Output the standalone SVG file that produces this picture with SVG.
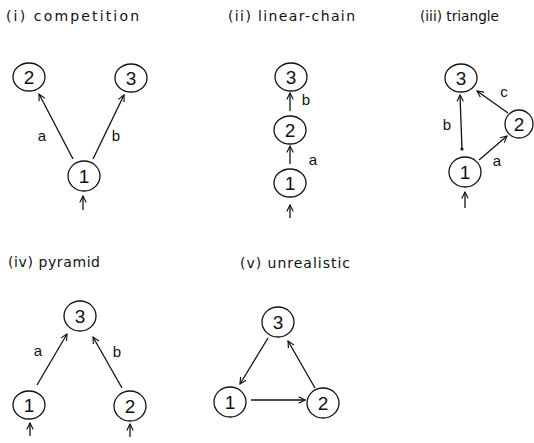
<svg xmlns="http://www.w3.org/2000/svg" width="534" height="443" viewBox="0 0 534 443">
<defs>
<style>
.t{font-family:"DejaVu Sans","Liberation Sans",sans-serif;font-size:14px;fill:#111}
.n ellipse{fill:none;stroke:#111;stroke-width:1.3}
.n text{font-family:"Liberation Sans",sans-serif;font-size:19px;fill:#111;text-anchor:middle}
.l{font-family:"Liberation Sans",sans-serif;font-size:15px;fill:#111;text-anchor:middle}
.e line{stroke:#111;stroke-width:1.3;fill:none;marker-end:url(#ah)}
</style>
<marker id="ah" viewBox="0 0 10 10" refX="9" refY="5" markerWidth="8" markerHeight="8" markerUnits="userSpaceOnUse" orient="auto">
<path d="M1,1 L9,5 L1,9" fill="none" stroke="#111" stroke-width="1.4"/>
</marker>
</defs>
<rect width="534" height="443" fill="#fff"/>

<!-- titles -->
<text class="t" x="6" y="21" textLength="133" lengthAdjust="spacing">(i) competition</text>
<text class="t" x="228" y="21" textLength="127" lengthAdjust="spacing">(ii) linear-chain</text>
<text class="t" x="420" y="21" font-size="13" textLength="79" lengthAdjust="spacingAndGlyphs">(iii) triangle</text>
<text class="t" x="8" y="267" textLength="92" lengthAdjust="spacing">(iv) pyramid</text>
<text class="t" x="240" y="268" textLength="110" lengthAdjust="spacing">(v) unrealistic</text>

<!-- panel i -->
<g id="i-n2" class="n"><ellipse cx="29" cy="77" rx="16" ry="14"/><text x="29" y="84">2</text></g>
<g id="i-n3" class="n"><ellipse cx="131" cy="78" rx="16" ry="14"/><text x="131" y="85">3</text></g>
<g id="i-n1" class="n"><ellipse cx="84" cy="176" rx="16" ry="15"/><text x="84" y="183">1</text></g>

<!-- panel ii -->
<g id="ii-n3" class="n"><ellipse cx="291" cy="77" rx="16" ry="14"/><text x="291" y="84">3</text></g>
<g id="ii-n2" class="n"><ellipse cx="290" cy="130" rx="16" ry="14"/><text x="290" y="137">2</text></g>
<g id="ii-n1" class="n"><ellipse cx="290" cy="183" rx="16" ry="14"/><text x="290" y="190">1</text></g>

<!-- panel iii -->
<g id="iii-n3" class="n"><ellipse cx="461" cy="78" rx="16" ry="14"/><text x="461" y="85">3</text></g>
<g id="iii-n2" class="n"><ellipse cx="519" cy="124" rx="14" ry="14"/><text x="519" y="131">2</text></g>
<g id="iii-n1" class="n"><ellipse cx="465" cy="172" rx="16" ry="15"/><text x="465" y="179">1</text></g>

<!-- panel iv -->
<g id="iv-n3" class="n"><ellipse cx="80" cy="316" rx="16" ry="15"/><text x="80" y="323">3</text></g>
<g id="iv-n1" class="n"><ellipse cx="29" cy="405" rx="16" ry="14"/><text x="29" y="412">1</text></g>
<g id="iv-n2" class="n"><ellipse cx="130" cy="406" rx="16" ry="15"/><text x="130" y="413">2</text></g>

<!-- panel v -->
<g id="v-n3" class="n"><ellipse cx="278" cy="322" rx="16" ry="15"/><text x="278" y="329">3</text></g>
<g id="v-n1" class="n"><ellipse cx="230" cy="402" rx="16" ry="15"/><text x="230" y="409">1</text></g>
<g id="v-n2" class="n"><ellipse cx="323" cy="403" rx="16" ry="15"/><text x="323" y="410">2</text></g>

<g id="connectors" class="e">
<!-- i -->
<line x1="73" y1="159" x2="39" y2="94"/>
<line x1="93" y1="159" x2="124" y2="95"/>
<line x1="83" y1="210" x2="83" y2="196"/>
<!-- ii -->
<line x1="290" y1="111" x2="290" y2="93"/>
<line x1="290" y1="164" x2="290" y2="146"/>
<line x1="290" y1="218" x2="290" y2="205"/>
<!-- iii -->
<line x1="462" y1="149" x2="460" y2="95"/>
<line x1="508" y1="113" x2="477" y2="91"/>
<line x1="479" y1="160" x2="507" y2="136"/>
<line x1="465" y1="208" x2="465" y2="192"/>
<!-- iv -->
<line x1="37" y1="385" x2="67" y2="334"/>
<line x1="122" y1="388" x2="93" y2="337"/>
<line x1="30" y1="436" x2="30" y2="423"/>
<line x1="130" y1="437" x2="130" y2="424"/>
<!-- v -->
<line x1="268" y1="338" x2="240" y2="384"/>
<line x1="251" y1="400" x2="305" y2="400"/>
<line x1="315" y1="388" x2="288" y2="341"/>
</g>
<circle cx="462" cy="149" r="1.6" fill="#111"/>

<!-- edge labels -->
<text class="l" x="42" y="141">a</text>
<text class="l" x="116" y="141">b</text>
<text class="l" x="306" y="105">b</text>
<text class="l" x="313" y="165">a</text>
<text class="l" x="447" y="130">b</text>
<text class="l" x="504" y="97">c</text>
<text class="l" x="497" y="166">a</text>
<text class="l" x="38" y="356">a</text>
<text class="l" x="117" y="357">b</text>
</svg>
